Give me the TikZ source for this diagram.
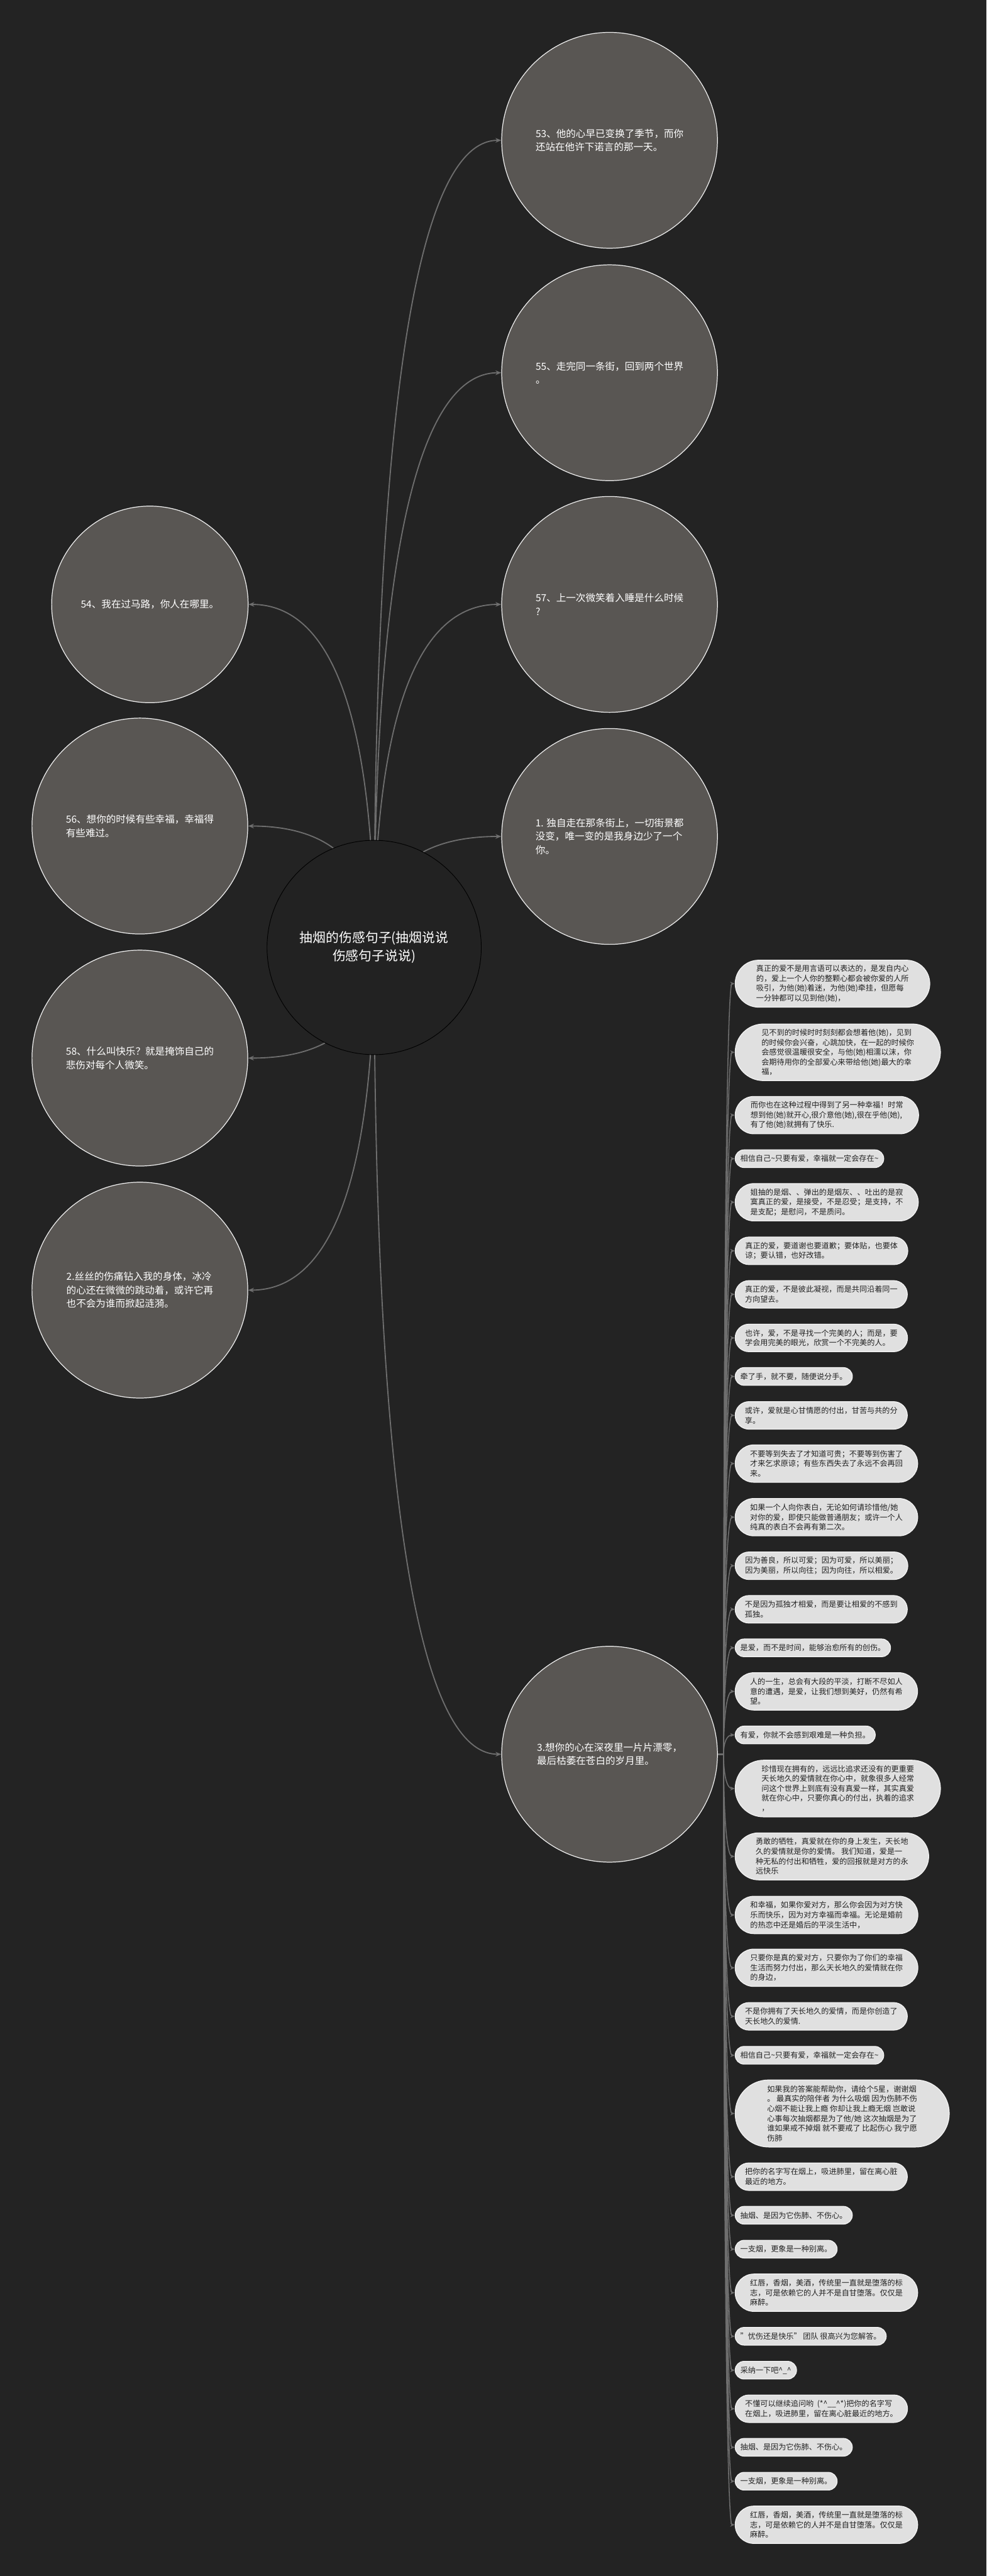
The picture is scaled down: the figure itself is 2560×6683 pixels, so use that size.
\documentclass[tikz,border=0pt]{standalone}
\usepackage{fontspec}
\setmainfont{Noto Sans CJK SC}
\usetikzlibrary{arrows.meta,shapes.misc,calc}
\definecolor{bgc}{HTML}{232323}
\definecolor{circf}{HTML}{595653}
\definecolor{circb}{HTML}{EEEEEE}
\definecolor{cenf}{HTML}{222222}
\definecolor{itemf}{HTML}{E0E0E0}
\definecolor{itemb}{HTML}{F4F4F4}
\definecolor{itemt}{HTML}{222222}
\definecolor{edgec}{HTML}{6E6E6E}
\pgfdeclarelayer{back}
\pgfdeclarelayer{edges}
\pgfsetlayers{back,edges,main}
\tikzset{
  mc/.style={circle, draw=circb, line width=2pt, fill=circf, minimum size=560pt, inner sep=0pt,
    text=white, align=left, font=\fontsize{25.4}{35}\selectfont},
  itemnode/.style={rounded rectangle, draw=itemb, line width=2pt, fill=itemf, inner xsep=1pt,
    inner ysep=2pt, align=left, anchor=west, text=itemt, font=\fontsize{19.8}{25.5}\selectfont},
  L1/.style={itemnode, minimum height=46pt, inner xsep=11.5pt},
  L2/.style={itemnode, minimum height=71.5pt, inner xsep=17.9pt},
  L3/.style={itemnode, minimum height=97pt, inner xsep=24.25pt},
  L4/.style={itemnode, minimum height=122pt, inner xsep=30.5pt},
  L5/.style={itemnode, minimum height=147pt, inner xsep=36.75pt},
  L6/.style={itemnode, minimum height=174pt, inner xsep=43.5pt},
  medge/.style={draw=edgec, line width=3pt, -{Stealth[length=15pt,width=12pt]}},
  ledge/.style={draw=edgec, line width=2.5pt, -{Stealth[length=12pt,width=10pt]}},
}
\begin{document}
\begin{tikzpicture}[x=1pt,y=-1pt]
\begin{pgfonlayer}{back}
\fill[bgc] (0,0) rectangle (2560,6683);
\end{pgfonlayer}
\useasboundingbox (0,0) rectangle (2560,6683);

% center
\node[mc, fill=cenf, draw=black, line width=1.5pt, align=center, font=\fontsize{34}{47}\selectfont, minimum size=556pt] (cen) at (971,2458) {抽烟的伤感句子(抽烟说说\\伤感句子说说)};

% right circles
\node[mc] (c53) at (1582,364) {53、他的心早已变换了季节，而你\\还站在他许下诺言的那一天。};
\node[mc] (c55) at (1582,967) {55、走完同一条街，回到两个世界\\。};
\node[mc] (c57) at (1582,1568) {57、上一次微笑着入睡是什么时候\\?};
\node[mc] (c1) at (1582,2170) {1. 独自走在那条街上，一切街景都\\没变，唯一变的是我身边少了一个\\你。};
\node[mc] (c3) at (1582,4551) {3.想你的心在深夜里一片片漂零，\\最后枯萎在苍白的岁月里。};

% left circles
\node[mc, minimum size=510pt] (c54) at (389,1568) {54、我在过马路，你人在哪里。};
\node[mc] (c56) at (363,2143) {56、想你的时候有些幸福，幸福得\\有些难过。};
\node[mc] (c58) at (363,2745) {58、什么叫快乐？就是掩饰自己的\\悲伤对每个人微笑。};
\node[mc] (c2) at (363,3347) {2.丝丝的伤痛钻入我的身体，冰冷\\的心还在微微的跳动着，或许它再\\也不会为谁而掀起涟漪。};

% list items
\node[L4] (i1) at (1907,2552) {真正的爱不是用言语可以表达的，是发自内心\\的，爱上一个人你的整颗心都会被你爱的人所\\吸引，为他(她)着迷，为他(她)牵挂，但愿每\\一分钟都可以见到他(她)，};
\node[L5] (i2) at (1907,2730) {见不到的时候时时刻刻都会想着他(她)，见到\\的时候你会兴奋，心跳加快，在一起的时候你\\会感觉很温暖很安全，与他(她)相濡以沫，你\\会期待用你的全部爱心来带给他(她)最大的幸\\福，};
\node[L3] (i3) at (1907,2893) {而你也在这种过程中得到了另一种幸福！时常\\想到他(她)就开心,很介意他(她),很在乎他(她),\\有了他(她)就拥有了快乐.};
\node[L1] (i4) at (1907,3006) {相信自己\textasciitilde 只要有爱，幸福就一定会存在\textasciitilde};
\node[L3] (i5) at (1907,3119) {姐抽的是烟、、弹出的是烟灰、、吐出的是寂\\寞真正的爱，是接受，不是忍受；是支持，不\\是支配；是慰问，不是质问。};
\node[L2] (i6) at (1907,3245) {真正的爱，要道谢也要道歉；要体贴，也要体\\谅；要认错，也好改错。};
\node[L2] (i7) at (1907,3358) {真正的爱，不是彼此凝视，而是共同沿着同一\\方向望去。};
\node[L2] (i8) at (1907,3471) {也许，爱，不是寻找一个完美的人；而是，要\\学会用完美的眼光，欣赏一个不完美的人。};
\node[L1] (i9) at (1907,3571) {牵了手，就不要，随便说分手。};
\node[L2] (i10) at (1907,3672) {或许，爱就是心甘情愿的付出，甘苦与共的分\\享。};
\node[L3] (i11) at (1907,3797) {不要等到失去了才知道可贵；不要等到伤害了\\才来乞求原谅；有些东西失去了永远不会再回\\来。};
\node[L3] (i12) at (1907,3936) {如果一个人向你表白，无论如何请珍惜他/她\\对你的爱，即使只能做普通朋友；或许一个人\\纯真的表白不会再有第二次。};
\node[L2] (i13) at (1907,4062) {因为善良，所以可爱；因为可爱，所以美丽；\\因为美丽，所以向往；因为向往，所以相爱。};
\node[L2] (i14) at (1907,4175) {不是因为孤独才相爱，而是要让相爱的不感到\\孤独。};
\node[L1] (i15) at (1907,4275) {是爱，而不是时间，能够治愈所有的创伤。};
\node[L3] (i16) at (1907,4388) {人的一生，总会有大段的平淡，打断不尽如人\\意的遭遇，是爱，让我们想到美好，仍然有希\\望。};
\node[L1] (i17) at (1907,4501) {有爱，你就不会感到艰难是一种负担。};
\node[L5] (i18) at (1907,4640) {珍惜现在拥有的，远远比追求还没有的更重要\\天长地久的爱情就在你心中，就象很多人经常\\问这个世界上到底有没有真爱一样，其实真爱\\就在你心中，只要你真心的付出，执着的追求\\，};
\node[L4] (i19) at (1907,4816) {勇敢的牺牲，真爱就在你的身上发生，天长地\\久的爱情就是你的爱情。 我们知道，爱是一\\种无私的付出和牺牲，爱的回报就是对方的永\\远快乐};
\node[L3] (i20) at (1907,4968) {和幸福，如果你爱对方，那么你会因为对方快\\乐而快乐，因为对方幸福而幸福。无论是婚前\\的热恋中还是婚后的平淡生活中，};
\node[L3] (i21) at (1907,5105) {只要你是真的爱对方，只要你为了你们的幸福\\生活而努力付出，那么天长地久的爱情就在你\\的身边，};
\node[L2] (i22) at (1907,5231) {不是你拥有了天长地久的爱情，而是你创造了\\天长地久的爱情.};
\node[L1] (i23) at (1907,5332) {相信自己\textasciitilde 只要有爱，幸福就一定会存在\textasciitilde};
\node[L6] (i24) at (1907,5483) {如果我的答案能帮助你，请给个5星，谢谢烟\\。 最真实的陪伴者 为什么吸烟 因为伤肺不伤\\心烟不能让我上瘾 你却让我上瘾无烟 岂敢说\\心事每次抽烟都是为了他/她 这次抽烟是为了\\谁如果戒不掉烟 就不要戒了 比起伤心 我宁愿\\伤肺};
\node[L2] (i25) at (1907,5647) {把你的名字写在烟上，吸进肺里，留在离心脏\\最近的地方。};
\node[L1] (i26) at (1907,5747) {抽烟、是因为它伤肺、不伤心。};
\node[L1] (i27) at (1907,5835) {一支烟，更象是一种别离。};
\node[L3] (i28) at (1907,5948) {红唇，香烟，美酒，传统里一直就是堕落的标\\志，可是依赖它的人并不是自甘堕落。仅仅是\\麻醉。};
\node[L1] (i29) at (1907,6061) {"忧伤还是快乐" 团队 很高兴为您解答。};
\node[L1] (i30) at (1907,6149) {采纳一下吧\textasciicircum\_\textasciicircum};
\node[L2] (i31) at (1907,6249) {不懂可以继续追问哟\ \ (*\textasciicircum\_\_\textasciicircum*)把你的名字写\\在烟上，吸进肺里，留在离心脏最近的地方。};
\node[L1] (i32) at (1907,6349) {抽烟、是因为它伤肺、不伤心。};
\node[L1] (i33) at (1907,6437) {一支烟，更象是一种别离。};
\node[L3] (i34) at (1907,6550) {红唇，香烟，美酒，传统里一直就是堕落的标\\志，可是依赖它的人并不是自甘堕落。仅仅是\\麻醉。};

\begin{pgfonlayer}{edges}
\foreach \c in {c53,c55,c57,c1,c3}
  \draw[medge] (cen.center) .. controls ($(cen.center)!2/3!(cen.center |- \c.west)$) and ($(\c.west)!2/3!(cen.center |- \c.west)$) .. (\c.west);
\foreach \c in {c54,c56,c58,c2}
  \draw[medge] (cen.center) .. controls ($(cen.center)!2/3!(cen.center |- \c.east)$) and ($(\c.east)!2/3!(cen.center |- \c.east)$) .. (\c.east);
\coordinate (tr) at (1878,4551);
\foreach \i in {1,...,34}
  \draw[ledge] (c3.east) -- (tr) .. controls ($(tr)!2/3!(tr |- i\i.west)$) and ($(i\i.west)!2/3!(tr |- i\i.west)$) .. (i\i.west);
\end{pgfonlayer}
\end{tikzpicture}
\end{document}
